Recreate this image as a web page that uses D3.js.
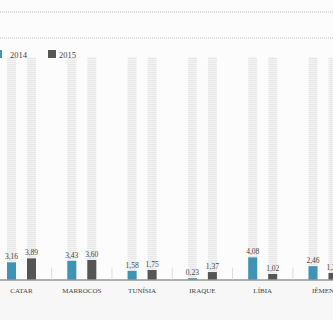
<!DOCTYPE html>
<html lang="pt-br">
<head>
<meta charset="utf-8">
<title>Barras 2014 / 2015</title>
<script src="https://d3js.org/d3.v7.min.js"></script>
<style>
  body { margin: 0; background: #fcfcfc; }
  #chart text { font-family: "Liberation Serif", "DejaVu Serif", serif; fill: #444; }
</style>
</head>
<body>
<div id="chart"></div>
<script>
// dados
var paises = ["CATAR", "MARROCOS", "TUNÍSIA", "IRAQUE", "LÍBIA", "IÊMEN"];
var anos = ["2014", "2015"];
var v2014 = [3.16, 3.43, 1.58, 0.23, 4.08, 2.46];
var v2015 = [3.89, 3.60, 1.75, 1.37, 1.02, 1.2];
var cores = ["#3f93b4", "#555555"];

var largura = 333, altura = 320;
var base = 279.5, topo = 57;

var svg = d3.select("#chart").append("svg")
  .attr("width", largura).attr("height", altura);

// textura das colunas de fundo
var defs = svg.append("defs");
var pat = defs.append("pattern").attr("id", "hach")
  .attr("patternUnits", "userSpaceOnUse").attr("width", 3).attr("height", 2);
pat.append("rect").attr("width", 3).attr("height", 2).attr("fill", "#f3f3f3");
pat.append("rect").attr("width", 3).attr("height", 1).attr("fill", "#e8e8e8");

// faixa abaixo do eixo
svg.append("rect").attr("x", 0).attr("y", base).attr("width", largura)
  .attr("height", altura - base).attr("fill", "#f7f7f7");

// linhas pontilhadas no topo
[12, 38].forEach(function(yy, i) {
  svg.append("line").attr("x1", 0).attr("x2", largura).attr("y1", yy).attr("y2", yy)
    .attr("stroke", "#bbb").attr("stroke-width", i == 0 ? 1.2 : 1)
    .attr("stroke-dasharray", "1,1");
});

// escalas
var x = d3.scaleBand().domain(paises).range([-8.65, 353.15]);
var meio = x.bandwidth() / 2;
var xs = d3.scaleBand().domain(anos).range([meio - 14.5, meio + 14.5]).paddingInner(0.55);
var y = d3.scaleLinear().domain([0, 41]).range([base, topo]);

var dados = paises.map(function(p, i) {
  return { pais: p, vals: [{ ano: "2014", v: v2014[i] }, { ano: "2015", v: v2015[i] }] };
});

var grupos = svg.selectAll("g.grupo").data(dados).enter().append("g")
  .attr("class", "grupo")
  .attr("transform", function(d) { return "translate(" + x(d.pais) + ",0)"; });

// colunas de fundo
grupos.selectAll("rect.fundo").data(function(d) { return d.vals; }).enter().append("rect")
  .attr("class", "fundo")
  .attr("x", function(d) { return xs(d.ano); })
  .attr("width", xs.bandwidth())
  .attr("y", y(41)).attr("height", y(0) - y(41))
  .attr("fill", "url(#hach)");

// barras
grupos.selectAll("rect.barra").data(function(d) { return d.vals; }).enter().append("rect")
  .attr("class", "barra")
  .attr("x", function(d) { return xs(d.ano); })
  .attr("width", xs.bandwidth())
  .attr("y", function(d) { return y(d.v); })
  .attr("height", function(d) { return y(0) - y(d.v); })
  .attr("fill", function(d, i) { return cores[i]; });

// rotulos de valor
grupos.selectAll("text.valor").data(function(d) { return d.vals; }).enter().append("text")
  .attr("class", "valor")
  .attr("x", function(d) { return xs(d.ano) + xs.bandwidth() / 2; })
  .attr("y", function(d) { return y(d.v) - 3; })
  .attr("text-anchor", "middle")
  .style("font-size", "7.5px")
  .text(function(d) { return d3.format(".2f")(d.v).replace(".", ","); });

// eixo
var eixo = svg.append("g").attr("transform", "translate(0," + base + ")")
  .call(d3.axisBottom(x).tickSize(0).tickPadding(9));
eixo.select(".domain").attr("stroke", "#666");
eixo.selectAll("text").style("font-size", "7px").attr("fill", "#444");

// separadores
svg.selectAll("line.sep").data(paises.slice(1)).enter().append("line")
  .attr("class", "sep")
  .attr("x1", function(d) { return x(d); }).attr("x2", function(d) { return x(d); })
  .attr("y1", base - 12).attr("y2", base)
  .attr("stroke", "#ddd");

// legenda
var leg = svg.append("g").attr("transform", "translate(0,57)");
leg.selectAll("rect").data(anos).enter().append("rect")
  .attr("x", function(d, i) { return -6 + i * 54; }).attr("y", -7)
  .attr("width", 8).attr("height", 8)
  .attr("fill", function(d, i) { return cores[i]; });
leg.selectAll("text").data(anos).enter().append("text")
  .attr("x", function(d, i) { return 10 + i * 49; }).attr("y", 1)
  .style("font-size", "8.5px")
  .text(function(d) { return d; });
</script>
</body>
</html>
